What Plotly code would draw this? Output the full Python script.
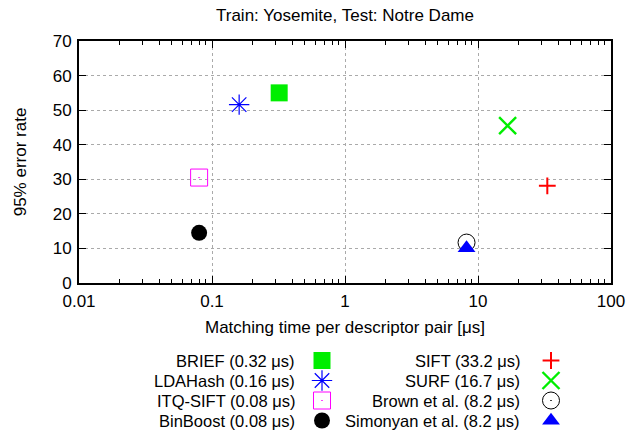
import plotly.graph_objects as go

# ---- data ----
methods = ["BRIEF", "LDAHash", "ITQ-SIFT", "BinBoost",
           "SIFT", "SURF", "Brown et al.", "Simonyan et al."]
match_time = [0.32, 0.16, 0.08, 0.08, 33.2, 16.7, 8.2, 8.2]
error_rate = [55.0, 51.6, 30.5, 14.5, 28.1, 45.5, 11.7, 10.1]
time_labels = ["0.32", "0.16", "0.08", "0.08", "33.2", "16.7", "8.2", "8.2"]
x_tickvals = [0.01, 0.1, 1, 10, 100]
x_ticktext = ["0.01", "0.1", "1", "10", "100"]
y_tickvals = [0, 10, 20, 30, 40, 50, 60, 70]

# ---- styles ----
symbols = ["square", "asterisk-open", "square-open-dot", "circle",
           "cross-thin-open", "x-thin-open", "circle-open-dot", "triangle-up"]
colors = ["#00ee00", "#0000ff", "#ff00ff", "#000000",
          "#ff0000", "#00ee00", "#000000", "#0000ff"]
sizes = [17, 17, 17, 16, 12, 17, 17, 15.5]
lwidths = [0, 1.2, 1, 0, 2, 2.4, 1, 0]

W, H = 637, 434
L, R, T, B = 79, 611, 41, 283
FONT = "Liberation Sans, Arial, sans-serif"
FS = 17
LFS = 16.5

fig = go.Figure()
# custom legend (text right-aligned, marker to the right) on a full-page overlay axis
row0, rowh = 360.5, 20
text_x = [297, 522]
mark_x = [322, 551]
annotations = []
for i, m in enumerate(methods):
    col, row = divmod(i, 4)
    yy = row0 + row * rowh
    fig.add_trace(go.Scatter(
        x=[mark_x[col]], y=[yy], mode="markers", showlegend=False,
        marker=dict(symbol=symbols[i], size=sizes[i], color=colors[i],
                    line=dict(color=colors[i], width=lwidths[i])),
        xaxis="x2", yaxis="y2", hoverinfo="skip", cliponaxis=False))
    annotations.append(dict(
        x=text_x[col] / W, y=1 - yy / H, xref="paper", yref="paper",
        text=f"{m} ({time_labels[i]} \u03bcs)", showarrow=False,
        xanchor="right", yanchor="middle", font=dict(size=LFS, color="black")))

for i, m in enumerate(methods):
    fig.add_trace(go.Scatter(
        x=[match_time[i]], y=[error_rate[i]], mode="markers", name=m,
        marker=dict(symbol=symbols[i], size=sizes[i], color=colors[i],
                    line=dict(color=colors[i], width=lwidths[i])),
        xaxis="x", yaxis="y", showlegend=False, cliponaxis=False))

annotations.append(dict(x=(L + R) / 2 / W, y=1 - 15 / H, xref="paper", yref="paper",
                        text="Train: Yosemite, Test: Notre Dame", showarrow=False,
                        xanchor="center", yanchor="middle",
                        font=dict(size=FS, color="black")))
annotations.append(dict(x=(L + R) / 2 / W, y=1 - 327 / H, xref="paper", yref="paper",
                        text="Matching time per descriptor pair [\u03bcs]", showarrow=False,
                        xanchor="center", yanchor="middle",
                        font=dict(size=FS, color="black")))

minor_vals = [d * k for d in [0.01, 0.1, 1, 10] for k in range(2, 10)]

fig.update_layout(
    width=W, height=H, margin=dict(l=0, r=0, t=0, b=0, autoexpand=False),
    paper_bgcolor="white", plot_bgcolor="rgba(0,0,0,0)",
    font=dict(family=FONT, size=FS, color="black"),
    annotations=annotations,
    xaxis=dict(type="log", range=[-2, 2], domain=[L / W, R / W], automargin=False,
               tickmode="array", tickvals=x_tickvals, ticktext=x_ticktext,
               ticks="inside", ticklen=7, tickcolor="black", tickwidth=1,
               showline=True, linecolor="black", linewidth=2, mirror="ticks",
               showgrid=True, gridcolor="#aaaaaa", griddash="dot", gridwidth=1,
               zeroline=False, anchor="y", ticklabelstandoff=2,
               minor=dict(tickmode="array", tickvals=minor_vals, ticks="inside",
                          ticklen=4, tickcolor="black", showgrid=False),
               tickfont=dict(size=FS, color="black")),
    yaxis=dict(range=[0, 70], domain=[1 - B / H, 1 - T / H], automargin=False,
               tickmode="array", tickvals=y_tickvals,
               ticks="inside", ticklen=7, tickcolor="black", tickwidth=1,
               showline=True, linecolor="black", linewidth=2, mirror="ticks",
               showgrid=True, gridcolor="#aaaaaa", griddash="dot", gridwidth=1,
               zeroline=False, anchor="x", ticklabelstandoff=2,
               title=dict(text="95% error rate", standoff=22,
                          font=dict(size=FS, color="black")),
               tickfont=dict(size=FS, color="black")),
    xaxis2=dict(range=[0, W], domain=[0, 1], visible=False, anchor="y2",
                fixedrange=True, automargin=False),
    yaxis2=dict(range=[H, 0], domain=[0, 1], visible=False, anchor="x2",
                fixedrange=True, automargin=False),
)

fig.write_html("out.html", config={"displayModeBar": False},
               post_script="document.body.style.margin='0';document.body.style.overflow='hidden';")
